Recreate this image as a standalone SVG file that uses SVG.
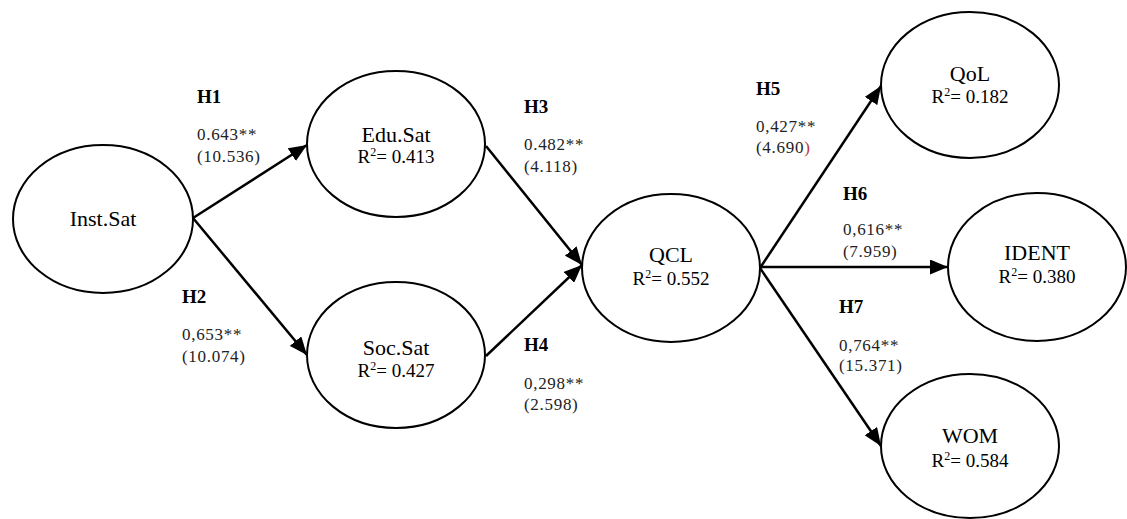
<svg xmlns="http://www.w3.org/2000/svg" width="1127" height="519" viewBox="0 0 1127 519">
<style>
.node ellipse{fill:#fff;stroke:#000;stroke-width:2}
.name{font-family:"Liberation Serif",serif;font-size:22px;fill:#000;text-anchor:middle}
.r2{font-family:"Liberation Serif",serif;font-size:19px;fill:#000;text-anchor:middle}
.sup{font-size:12px}
.h{font-family:"Liberation Serif",serif;font-size:19px;font-weight:bold;fill:#000}
.v{font-family:"Liberation Serif",serif;font-size:17px;letter-spacing:0.7px;fill:#222}
.edge{stroke:#000;stroke-width:2.5;fill:none;marker-end:url(#ah)}
</style>
<defs>
<marker id="ah" markerUnits="userSpaceOnUse" markerWidth="19" markerHeight="15" refX="18" refY="7.5" orient="auto">
<path d="M0,0 L18,7.5 L0,15 z" fill="#000"/>
</marker>
</defs>
<rect width="1127" height="519" fill="#fff"/>
<g id="connectors">
<line class="edge" x1="193" y1="218" x2="307" y2="145"/>
<line class="edge" x1="193" y1="218" x2="307" y2="355"/>
<line class="edge" x1="486" y1="146" x2="582" y2="265"/>
<line class="edge" x1="486" y1="356" x2="582" y2="265"/>
<line class="edge" x1="760" y1="268" x2="881" y2="86"/>
<line class="edge" x1="760" y1="267" x2="948" y2="267"/>
<line class="edge" x1="760" y1="268" x2="881" y2="446"/>
</g>
<g id="labels">
<text class="h" x="197" y="103">H1</text>
<text class="v" x="197" y="140">0.643**</text>
<text class="v" x="197" y="162">(10.536)</text>
<text class="h" x="182" y="303">H2</text>
<text class="v" x="182" y="340">0,653**</text>
<text class="v" x="182" y="362">(10.074)</text>
<text class="h" x="524" y="113">H3</text>
<text class="v" x="524" y="150">0.482**</text>
<text class="v" x="524" y="172">(4.118)</text>
<text class="h" x="524" y="351">H4</text>
<text class="v" x="524" y="389">0,298**</text>
<text class="v" x="524" y="410">(2.598)</text>
<text class="h" x="756" y="95">H5</text>
<text class="v" x="756" y="132">0,427**</text>
<text class="v" x="756" y="153">(4.690<tspan fill="#c0392b">)</tspan></text>
<text class="h" x="843" y="200">H6</text>
<text class="v" x="843" y="235">0,616**</text>
<text class="v" x="843" y="257">(7.959)</text>
<text class="h" x="839" y="313">H7</text>
<text class="v" x="839" y="351">0,764**</text>
<text class="v" x="839" y="371">(15.371)</text>
</g>
<g id="inst-sat" class="node">
<ellipse cx="103" cy="219" rx="90" ry="74"/>
<text class="name" x="103" y="226">Inst.Sat</text>
</g>
<g id="edu-sat" class="node">
<ellipse cx="396" cy="144" rx="89" ry="73"/>
<text class="name" x="396" y="142">Edu.Sat</text>
<text class="r2" x="396" y="163">R<tspan class="sup" dy="-7">2</tspan><tspan dy="7">= 0.413</tspan></text>
</g>
<g id="soc-sat" class="node">
<ellipse cx="396" cy="355" rx="89" ry="73"/>
<text class="name" x="396" y="355">Soc.Sat</text>
<text class="r2" x="396" y="377">R<tspan class="sup" dy="-7">2</tspan><tspan dy="7">= 0.427</tspan></text>
</g>
<g id="qcl" class="node">
<ellipse cx="671" cy="268" rx="89" ry="74"/>
<text class="name" x="671" y="262">QCL</text>
<text class="r2" x="671" y="285">R<tspan class="sup" dy="-7">2</tspan><tspan dy="7">= 0.552</tspan></text>
</g>
<g id="qol" class="node">
<ellipse cx="970" cy="85" rx="89" ry="73"/>
<text class="name" x="970" y="81">QoL</text>
<text class="r2" x="970" y="103">R<tspan class="sup" dy="-7">2</tspan><tspan dy="7">= 0.182</tspan></text>
</g>
<g id="ident" class="node">
<ellipse cx="1037" cy="267" rx="89" ry="74"/>
<text class="name" x="1037" y="260">IDENT</text>
<text class="r2" x="1037" y="283">R<tspan class="sup" dy="-7">2</tspan><tspan dy="7">= 0.380</tspan></text>
</g>
<g id="wom" class="node">
<ellipse cx="970" cy="446" rx="89" ry="72"/>
<text class="name" x="970" y="443">WOM</text>
<text class="r2" x="970" y="467">R<tspan class="sup" dy="-7">2</tspan><tspan dy="7">= 0.584</tspan></text>
</g>
</svg>
